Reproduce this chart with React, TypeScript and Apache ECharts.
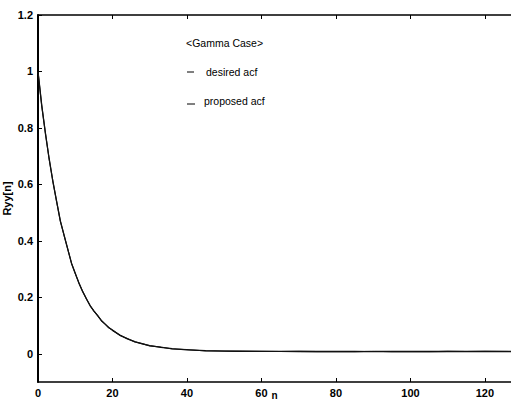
import React, { useEffect, useRef } from "react";
import * as echarts from "echarts";

const lagValues = [0, 1, 2, 3, 4, 5, 6, 7, 8, 9, 10, 11, 12, 13, 14, 15, 16, 17, 18, 19, 20, 22, 24, 26, 28, 30, 33, 36, 40, 45, 50, 55, 60, 65, 70, 75, 80, 85, 90, 95, 100, 105, 110, 115, 120, 127];
const desiredAcf = [1.0, 0.88, 0.78, 0.69, 0.61, 0.54, 0.47, 0.42, 0.37, 0.32, 0.285, 0.25, 0.22, 0.195, 0.17, 0.152, 0.135, 0.118, 0.105, 0.093, 0.083, 0.066, 0.053, 0.043, 0.035, 0.029, 0.023, 0.018, 0.014, 0.011, 0.0095, 0.009, 0.0085, 0.0082, 0.008, 0.008, 0.008, 0.008, 0.0078, 0.008, 0.008, 0.008, 0.008, 0.008, 0.008, 0.008];
const proposedAcf = [1.0, 0.879, 0.781, 0.689, 0.611, 0.539, 0.471, 0.419, 0.371, 0.321, 0.284, 0.251, 0.221, 0.194, 0.171, 0.151, 0.136, 0.117, 0.106, 0.092, 0.084, 0.065, 0.054, 0.042, 0.036, 0.028, 0.024, 0.017, 0.015, 0.010, 0.010, 0.0085, 0.009, 0.0078, 0.0085, 0.0075, 0.0083, 0.0072, 0.0088, 0.0076, 0.0082, 0.0074, 0.0086, 0.0078, 0.0084, 0.008];
const xTicks = [0, 20, 40, 60, 80, 100, 120];
const yTicks = [0, 0.2, 0.4, 0.6, 0.8, 1, 1.2];
const legendTitle = "<Gamma Case>";
const legendNames = ["desired acf", "proposed acf"];

const FONT = "Liberation Sans, Arial, sans-serif";

export default function App() {
  const ref = useRef<HTMLDivElement>(null);
  useEffect(() => {
    if (!ref.current) return;
    const chart = echarts.init(ref.current, undefined, { renderer: "svg" });
    const labelStyle = { color: "#000", fontSize: 11, fontFamily: FONT, fontWeight: "bold" as const };
    chart.setOption({
      animation: false,
      backgroundColor: "#fff",
      grid: { left: 38, top: 15, right: 0, bottom: 23, containLabel: false, outerBoundsMode: "none" },
      xAxis: [
        {
          type: "value",
          min: 0,
          max: 127,
          name: "n",
          nameLocation: "middle",
          nameGap: 8,
          nameMoveOverlap: false,
          nameTextStyle: { ...labelStyle, fontSize: 10 },
          axisLine: { show: true, onZero: false, lineStyle: { color: "#000", width: 1.5 } },
          axisTick: { show: true, inside: true, length: 4, customValues: xTicks, lineStyle: { color: "#000" } },
          axisLabel: { ...labelStyle, margin: 5, customValues: xTicks, showMaxLabel: true },
          splitLine: { show: false },
        },
        {
          type: "value",
          position: "top",
          min: 0,
          max: 127,
          axisLine: { show: true, onZero: false, lineStyle: { color: "#000", width: 1.5 } },
          axisTick: { show: true, inside: true, length: 4, customValues: xTicks, lineStyle: { color: "#000" } },
          axisLabel: { show: false },
          splitLine: { show: false },
        },
      ],
      yAxis: {
        type: "value",
        min: -0.1,
        max: 1.2,
        name: "Ryy[n]",
        nameLocation: "middle",
        nameGap: 26,
        nameMoveOverlap: false,
        nameTextStyle: { ...labelStyle },
        axisLine: { show: true, onZero: false, lineStyle: { color: "#000", width: 2 } },
        axisTick: { show: true, inside: true, length: 4, customValues: yTicks, lineStyle: { color: "#000" } },
        axisLabel: { ...labelStyle, margin: 5, customValues: yTicks },
        splitLine: { show: false },
      },
      series: [
        {
          name: legendNames[0],
          type: "line",
          showSymbol: false,
          data: lagValues.map((n, i) => [n, desiredAcf[i]]),
          lineStyle: { color: "#000", width: 1.3 },
        },
        {
          name: legendNames[1],
          type: "line",
          showSymbol: false,
          data: lagValues.map((n, i) => [n, proposedAcf[i]]),
          lineStyle: { color: "#111", width: 1.1 },
        },
      ],
      graphic: [
        { type: "text", left: 186, top: 37, style: { text: legendTitle, fill: "#000", font: `10.5px ${FONT}` } },
        { type: "line", shape: { x1: 187, y1: 72, x2: 194, y2: 72 }, style: { stroke: "#000", lineWidth: 1 } },
        { type: "text", left: 206, top: 66, style: { text: legendNames[0], fill: "#000", font: `10.5px ${FONT}` } },
        { type: "line", shape: { x1: 187, y1: 104, x2: 195, y2: 104 }, style: { stroke: "#000", lineWidth: 1 } },
        { type: "text", left: 204, top: 95, style: { text: legendNames[1], fill: "#000", font: `10.5px ${FONT}` } },
      ],
    });
    return () => chart.dispose();
  }, []);
  return <div ref={ref} style={{ width: 511, height: 405, position: "absolute", left: 0, top: 0 }} />;
}
